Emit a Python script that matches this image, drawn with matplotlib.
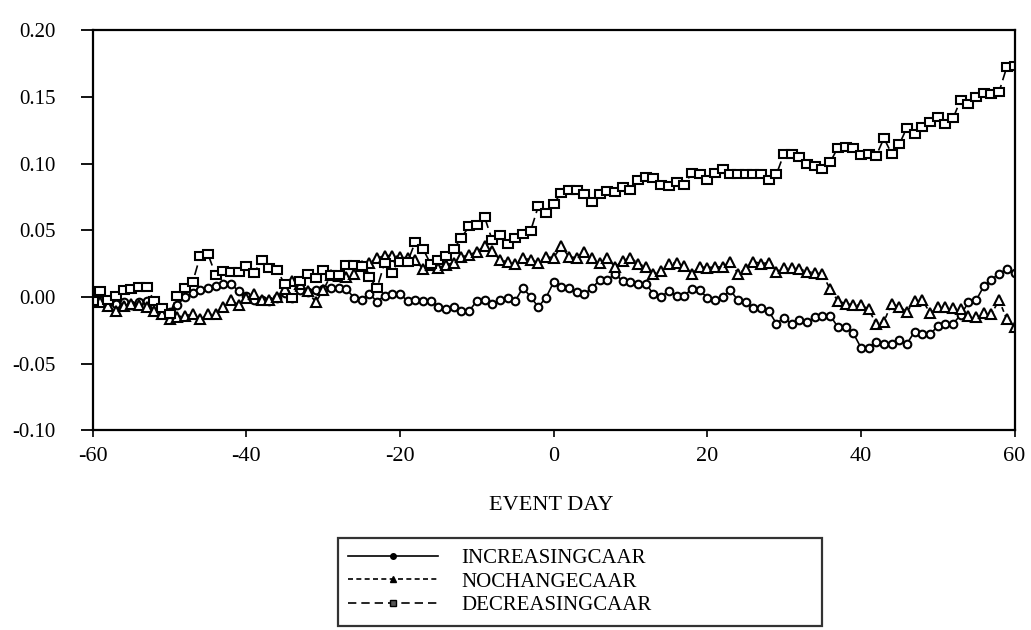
import matplotlib
matplotlib.use("Agg")
import matplotlib.pyplot as plt
from matplotlib.lines import Line2D
from matplotlib.markers import MarkerStyle
from matplotlib.transforms import Affine2D
from matplotlib.ticker import FormatStrFormatter

plt.rcParams['font.family'] = ['Liberation Serif', 'DejaVu Serif']
plt.rcParams['axes.unicode_minus'] = False

days = list(range(-60, 61))

increasing = [
    -0.003, -0.002, -0.004, -0.005, -0.004, -0.006, -0.004, -0.003, -0.006, -0.009,
    -0.011, -0.006, 0.000, 0.003, 0.005, 0.007, 0.008, 0.0095, 0.0095, 0.0045,
    0.001, -0.0025, -0.0025, -0.003, -0.001, 0.003, -0.001, 0.005, 0.004, 0.005,
    0.006, 0.0065, 0.0065, 0.006, -0.0005, -0.002, 0.0025, -0.0035, 0.001, 0.0025,
    0.002, -0.003, -0.0025, -0.003, -0.003, -0.0075, -0.009, -0.0075, -0.0105, -0.0105,
    -0.003, -0.002, -0.0055, -0.0025, -0.001, -0.003, 0.007, 0.000, -0.0075, -0.0005,
    0.011, 0.0075, 0.0065, 0.004, 0.002, 0.007, 0.0125, 0.013, 0.017, 0.012,
    0.011, 0.0095, 0.010, 0.002, 0.0002, 0.0045, 0.001, 0.001, 0.006, 0.005,
    -0.0005, -0.0025, 0.0002, 0.005, -0.0025, -0.004, -0.0085, -0.0085, -0.0105, -0.020,
    -0.0155, -0.0205, -0.0175, -0.019, -0.015, -0.014, -0.014, -0.0225, -0.0225, -0.027,
    -0.038, -0.038, -0.0335, -0.035, -0.0355, -0.0325, -0.035, -0.026, -0.0275, -0.028,
    -0.022, -0.0205, -0.020, -0.0135, -0.004, -0.0025, 0.008, 0.013, 0.0175, 0.021, 0.018,
]

nochange = [
    -0.003, -0.004, -0.007, -0.0105, -0.007, -0.005, -0.006, -0.0075, -0.0105, -0.013,
    -0.0168, -0.015, -0.014, -0.013, -0.0168, -0.013, -0.013, -0.0075, -0.0025, -0.006,
    -0.001, 0.0025, -0.0025, -0.0025, 0.000, 0.006, 0.012, 0.010, 0.0045, -0.004,
    0.005, 0.0165, 0.0158, 0.015, 0.017, 0.023, 0.0257, 0.029, 0.031, 0.031,
    0.030, 0.029, 0.0275, 0.021, 0.024, 0.022, 0.024, 0.0257, 0.030, 0.0315,
    0.034, 0.038, 0.0345, 0.0275, 0.0265, 0.0245, 0.029, 0.028, 0.0257, 0.030,
    0.0295, 0.038, 0.030, 0.0295, 0.034, 0.029, 0.0257, 0.029, 0.0225, 0.027,
    0.0295, 0.025, 0.0225, 0.0175, 0.0195, 0.025, 0.0257, 0.023, 0.0175, 0.0225,
    0.022, 0.0225, 0.0225, 0.0265, 0.0175, 0.021, 0.0265, 0.025, 0.0257, 0.019,
    0.022, 0.0215, 0.021, 0.019, 0.018, 0.017, 0.0058, -0.003, -0.005, -0.006,
    -0.006, -0.009, -0.0205, -0.0185, -0.005, -0.0075, -0.011, -0.003, -0.0025, -0.0118,
    -0.0075, -0.0075, -0.0085, -0.009, -0.014, -0.015, -0.0118, -0.0125, -0.0025, -0.0168, -0.0225,
]

decreasing = [
    -0.003, 0.0045, -0.002, 0.001, 0.005, 0.006, 0.0075, 0.0075, -0.003, -0.008,
    -0.013, 0.001, 0.0065, 0.011, 0.031, 0.032, 0.0165, 0.0195, 0.019, 0.019,
    0.023, 0.018, 0.0275, 0.022, 0.020, 0.0095, -0.0005, 0.012, 0.0175, 0.014,
    0.020, 0.0165, 0.0165, 0.024, 0.024, 0.023, 0.015, 0.0065, 0.0257, 0.018,
    0.0265, 0.0265, 0.0415, 0.036, 0.0245, 0.0275, 0.031, 0.036, 0.0445, 0.053,
    0.054, 0.060, 0.0425, 0.0465, 0.0395, 0.044, 0.0475, 0.0495, 0.068, 0.063,
    0.070, 0.078, 0.080, 0.080, 0.0775, 0.071, 0.077, 0.0795, 0.079, 0.0825,
    0.080, 0.0875, 0.090, 0.0895, 0.084, 0.083, 0.0865, 0.084, 0.093, 0.092,
    0.088, 0.093, 0.096, 0.092, 0.092, 0.092, 0.092, 0.092, 0.088, 0.092,
    0.1075, 0.1075, 0.105, 0.100, 0.098, 0.096, 0.101, 0.112, 0.1125, 0.112,
    0.1065, 0.1075, 0.106, 0.119, 0.1075, 0.1145, 0.127, 0.1225, 0.1275, 0.131,
    0.135, 0.130, 0.134, 0.148, 0.1445, 0.150, 0.153, 0.152, 0.154, 0.1725, 0.173,
]

labels = ["INCREASINGCAAR", "NOCHANGECAAR", "DECREASINGCAAR"]
x_ticks = [-60, -40, -20, 0, 20, 40, 60]
y_ticks = [-0.10, -0.05, 0.00, 0.05, 0.10, 0.15, 0.20]

fig = plt.figure(figsize=(10.31, 6.30), dpi=100)
ax = fig.add_axes([0.090, 0.317, 0.894, 0.635])

rect_marker = MarkerStyle('s', transform=Affine2D().scale(1.3, 0.95))

ax.plot(days, increasing, color='black', lw=1.2, ls='-', marker='o', ms=5.5,
        mfc='white', mec='black', mew=1.5)
ax.plot(days, nochange, color='black', lw=1.2, ls=(0, (3, 2)), marker='^', ms=6.5,
        mfc='white', mec='black', mew=1.5)
ax.plot(days, decreasing, color='black', lw=1.2, ls=(0, (6, 3)), marker=rect_marker, ms=6,
        mfc='white', mec='black', mew=1.5)

ax.set_xlim(-60, 60)
ax.set_ylim(-0.10, 0.20)
ax.set_xticks(x_ticks)
ax.set_yticks(y_ticks)
ax.yaxis.set_major_formatter(FormatStrFormatter('%.2f'))
ax.tick_params(axis='y', labelsize=15, direction='out', length=9, width=1.3, pad=18)
ax.tick_params(axis='x', labelsize=16, direction='out', length=5, width=1.2, pad=7)
for s in ax.spines.values():
    s.set_linewidth(1.6)
    s.set_color('black')

fig.text(551 / 1031, 1 - 506 / 630, "EVENT DAY", ha='center', va='center', fontsize=16)

handles = [
    Line2D([], [], color='black', lw=1.2, ls='-', marker='o', ms=4, mfc='black', mec='black'),
    Line2D([], [], color='black', lw=1.2, ls=(0, (3, 2)), marker='^', ms=5, mfc='black', mec='black'),
    Line2D([], [], color='black', lw=1.2, ls=(0, (5, 3)), marker='s', ms=4, mfc='#555555', mec='black'),
]
leg = fig.legend(handles, labels, loc='upper left',
                 bbox_to_anchor=(338 / 1031, 1 - 622 / 630, 484 / 1031, 84 / 630),
                 mode='expand', fontsize=15, numpoints=1, handlelength=4.3,
                 handletextpad=1.1, labelspacing=0.2, borderpad=0.5,
                 borderaxespad=0.0,
                 fancybox=False, frameon=True, edgecolor='black')
leg.get_frame().set_linewidth(1.6)

fig.savefig("out.png", dpi=100)
